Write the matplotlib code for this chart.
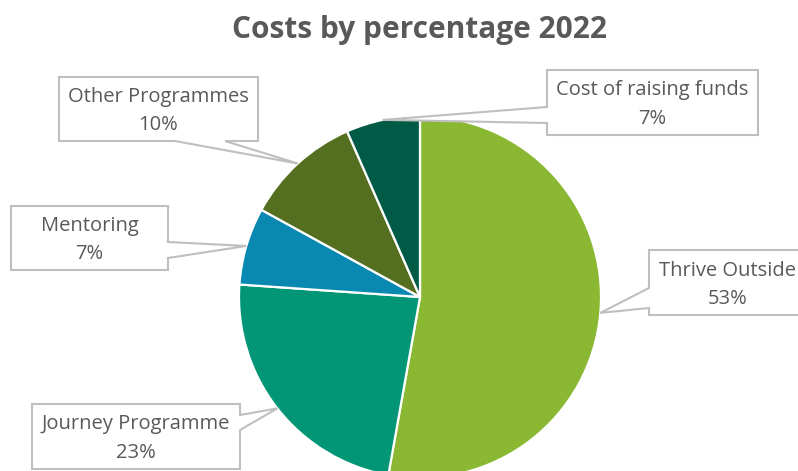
import numpy as np
import matplotlib

matplotlib.use("Agg")
import matplotlib.pyplot as plt
from matplotlib.patches import Polygon

# data (clockwise from 12 o'clock)
categories = ["Thrive Outside", "Journey Programme", "Mentoring",
              "Other Programmes", "Cost of raising funds"]
shares = [52.8, 23.3, 6.9, 10.4, 6.6]
colors = ["#8AB833", "#029676", "#0989B1", "#546F1F", "#005B46"]
title = "Costs by percentage 2022"

W, H = 798, 471
CX, CY, R = 420, 297, 181  # pie centre / radius in pixels, y from top
TEXT = "#595959"
EDGE = "#BFBFBF"
FONT = "Open Sans"

# callout boxes: (x0, y0, x1, y1) in pixels, side of the pointer, pointer base span
boxes = {
    "Thrive Outside": ((649, 250, 806, 315), "left", (288, 308)),
    "Journey Programme": ((32, 404, 240, 469), "right", (415, 430)),
    "Mentoring": ((11, 206, 168, 270), "right", (242, 258)),
    "Other Programmes": ((59, 77, 258, 141), "bottom", (175, 225)),
    "Cost of raising funds": ((547, 70, 758, 135), "left", (107, 123)),
}


def callout(box, side, base, tip):
    x0, y0, x1, y1 = box
    a, b = base
    pts = [(x0, y0), (x1, y0)]
    if side == "right":
        pts += [(x1, a), tip, (x1, b)]
    pts.append((x1, y1))
    if side == "bottom":
        pts += [(b, y1), tip, (a, y1)]
    pts.append((x0, y1))
    if side == "left":
        pts += [(x0, b), tip, (x0, a)]
    return [(x, H - y) for x, y in pts]


fig = plt.figure(figsize=(W / 100, H / 100), dpi=100)
ax = fig.add_axes([0, 0, 1, 1])
ax.pie(shares, colors=colors, startangle=90, counterclock=False,
       center=(CX, H - CY), radius=R,
       wedgeprops=dict(edgecolor="white", linewidth=1.6))
ax.set_xlim(0, W)
ax.set_ylim(0, H)
ax.set_aspect("equal")
ax.axis("off")

total = sum(shares)
start = 0.0
for name, val in zip(categories, shares):
    mid = (start + val / 2) / total * 2 * np.pi  # clockwise from top
    start += val
    tip = (CX + R * np.sin(mid), CY - R * np.cos(mid))
    box, side, base = boxes[name]
    ax.add_patch(Polygon(callout(box, side, base, tip), closed=True,
                         facecolor="white", edgecolor=EDGE, linewidth=1.5,
                         zorder=3, clip_on=False))
    bx = (box[0] + box[2]) / 2
    by = (box[1] + box[3]) / 2
    ax.text(bx, H - (by - 12), name, ha="center", va="center",
            color=TEXT, fontsize=14.5, family=FONT, zorder=4)
    ax.text(bx, H - (by + 16), f"{round(val / total * 100)}%",
            ha="center", va="center", color=TEXT, fontsize=14.5,
            family=FONT, zorder=4)

fig.text(420 / W, 1 - 30 / H, title, ha="center", va="center",
         color=TEXT, fontsize=21.5, fontweight="bold", family=FONT)

fig.savefig("out.png", dpi=100, facecolor="white")
